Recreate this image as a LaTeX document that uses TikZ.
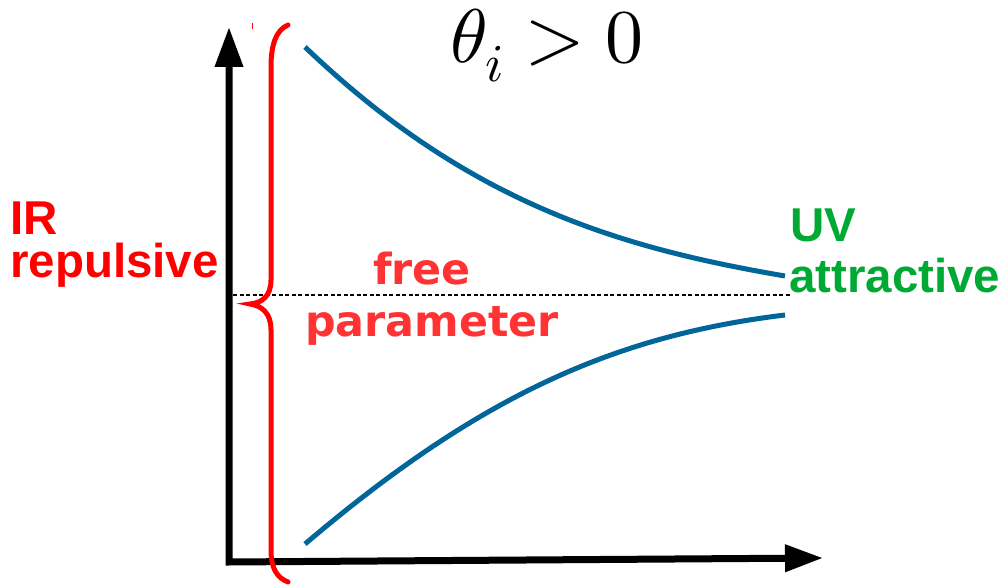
\documentclass[tikz,border=0pt]{standalone}
\usepackage{fontspec}
\usepackage{unicode-math}
\usetikzlibrary{arrows.meta}
\newfontfamily\libsans{Liberation Sans}
\newfontfamily\dejasans{DejaVu Sans}
\definecolor{curveblue}{RGB}{0,102,153}
\definecolor{bracered}{RGB}{255,0,0}
\definecolor{freered}{RGB}{255,51,51}
\definecolor{uvgreen}{RGB}{0,169,51}
\tikzset{
  axisline/.style={line width=7pt, line join=miter},
  flowcurve/.style={curveblue, line width=5pt},
  bracestyle/.style={bracered, line width=5pt, line cap=round},
  sidelabel/.style={anchor=base west, inner sep=0pt, font=\libsans\bfseries\fontsize{47.5}{50}\selectfont},
  freelabel/.style={anchor=base west, inner sep=0pt, text=freered, font=\dejasans\bfseries\fontsize{42.8}{46}\selectfont},
}
\begin{document}
\begin{tikzpicture}[x=1pt,y=-1pt]
\useasboundingbox (0,0) rectangle (1005,585);
% axes
\coordinate (ytip) at (229,27);
\coordinate (origin) at (229,562);
\coordinate (xtip) at (823,558);
\draw[axisline, {Triangle[length=40pt,width=27pt]}-{Triangle[length=38pt,width=26pt]}]
  (ytip) -- (origin) -- (xtip);
% dashed line
\coordinate (dashL) at (233,295);
\coordinate (dashR) at (790,295);
\draw[line width=1.5pt, dash pattern=on 4pt off 2.5pt] (dashL) -- (dashR);
% brace
\coordinate (braceTop) at (288,25);
\coordinate (braceCusp) at (250,304);
\coordinate (braceBot) at (288,582);
\draw[bracestyle] (braceTop) .. controls (276,30) and (271,45) .. (271,67)
  -- (271,280) .. controls (271,296) and (262,303) .. (braceCusp)
  .. controls (262,306) and (271,313) .. (271,330)
  -- (271,550) .. controls (271,570) and (278,578) .. (braceBot);
\coordinate (tickA) at (252,23);
\coordinate (tickB) at (252,29);
\draw[bracered, line width=1pt] (tickA) -- (tickB);
% curves
\coordinate (upA) at (305,47);
\coordinate (upB) at (785,276);
\coordinate (loA) at (305,544);
\coordinate (loB) at (785,315);
\draw[flowcurve] (upA) .. controls (469,204) and (621,248) .. (upB);
\draw[flowcurve] (loA) .. controls (478,397) and (612,336) .. (loB);
% labels
\node[anchor=base west, inner sep=0pt, font=\fontsize{76}{84}\selectfont] (theta) at (450,63) {$\theta_i > 0$};
\node[sidelabel, text=bracered] (ir) at (10,235) {IR};
\node[sidelabel, text=bracered] (rep) at (10,278) {repulsive};
\node[sidelabel, text=uvgreen] (uv) at (790,242) {UV};
\node[sidelabel, text=uvgreen] (attr) at (789,293) {attractive};
\node[freelabel] (free) at (373,285) {free};
\node[freelabel] (param) at (305,337) {parameter};
\end{tikzpicture}
\end{document}
